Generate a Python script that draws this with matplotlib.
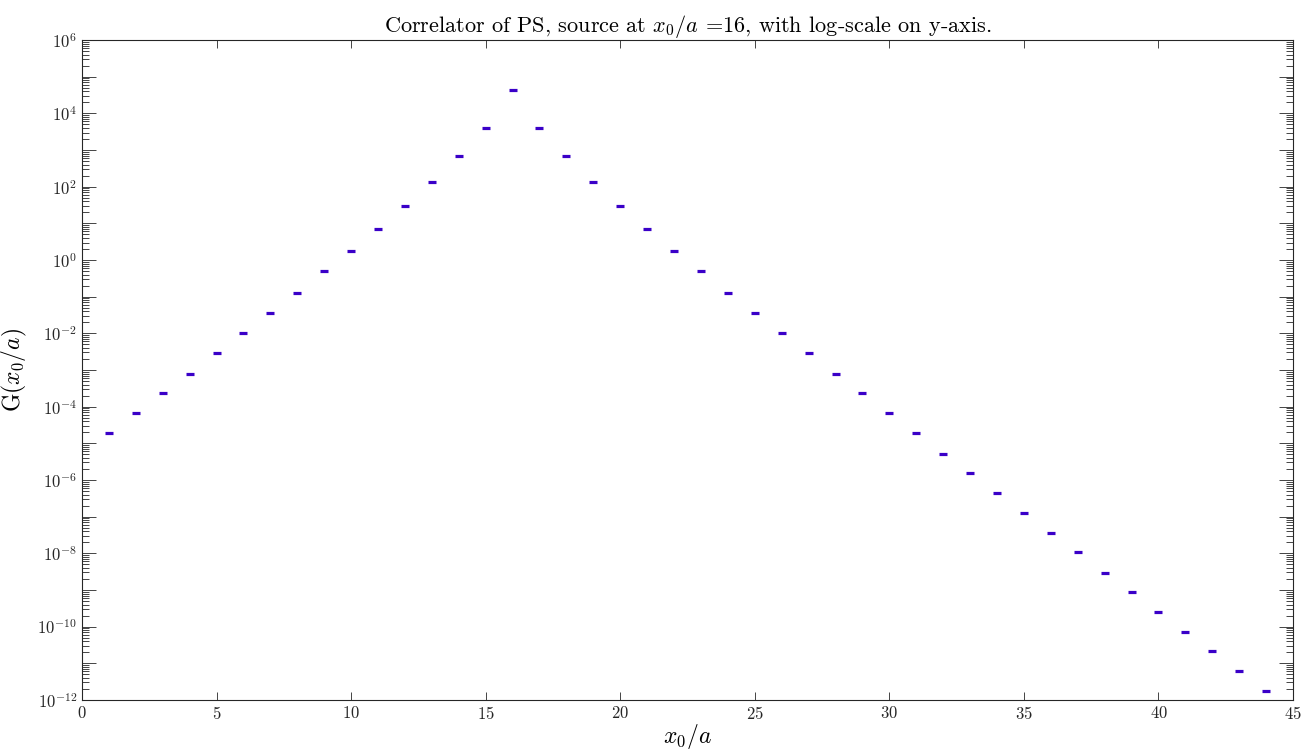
import numpy as np
import matplotlib
matplotlib.use("Agg")
import matplotlib.pyplot as plt
from matplotlib.ticker import LogLocator, FixedLocator, NullFormatter, FuncFormatter

plt.rcParams['font.family'] = 'cmr10'
plt.rcParams['mathtext.fontset'] = 'cm'
plt.rcParams['axes.formatter.use_mathtext'] = True

x0 = list(range(1, 45))
log10_G = [-4.72, -4.17, -3.63, -3.11, -2.54, -1.99, -1.45, -0.90, -0.30, 0.25,
           0.85, 1.47, 2.13, 2.84, 3.60, 4.64, 3.60, 2.84, 2.13, 1.47,
           0.85, 0.25, -0.30, -0.90, -1.45, -1.99, -2.54, -3.11, -3.63, -4.17,
           -4.72, -5.29, -5.81, -6.35, -6.90, -7.44, -7.96, -8.54, -9.05, -9.60,
           -10.14, -10.66, -11.21, -11.75]
G = 10.0 ** np.array(log10_G)

fig = plt.figure(figsize=(13.01, 7.51), dpi=100)
ax = fig.add_axes([0.063, 0.068, 0.9309, 0.8787])
ax.plot(x0, G, linestyle='none', marker='_', markersize=6, markeredgewidth=2.3,
        color='#3a00c8')
ax.set_yscale('log')
ax.set_xlim(0, 45)
ax.set_ylim(1e-12, 1e6)
ax.set_xticks(range(0, 46, 5))
ax.yaxis.set_major_locator(FixedLocator([10.0 ** k for k in range(-12, 7)]))
ax.yaxis.set_major_formatter(FuncFormatter(
    lambda v, p: (r'$10^{%d}$' % round(np.log10(v))) if round(np.log10(v)) % 2 == 0 else ''))
ax.yaxis.set_minor_locator(LogLocator(base=10, subs=np.arange(2, 10), numticks=100))
ax.yaxis.set_minor_formatter(NullFormatter())
ax.tick_params(which='both', direction='in', left=True, right=True, top=True, bottom=True,
               labelsize=12, colors='#262626', width=0.6)
ax.tick_params(which='major', length=10)
ax.tick_params(which='minor', length=5)
ax.tick_params(axis='x', which='major', length=6)
for s in ax.spines.values():
    s.set_color('#262626')
    s.set_linewidth(0.8)
ax.set_title(r'Correlator of PS, source at $x_0/a$ =16, with log-scale on y-axis.',
             fontsize=16, pad=5)
ax.set_xlabel(r'$x_0/a$', fontsize=17, labelpad=0)
ax.set_ylabel(r'G$(x_0/a)$', fontsize=17)
ax.yaxis.set_label_coords(-0.044, 0.5)
fig.savefig('out.png', dpi=100)
